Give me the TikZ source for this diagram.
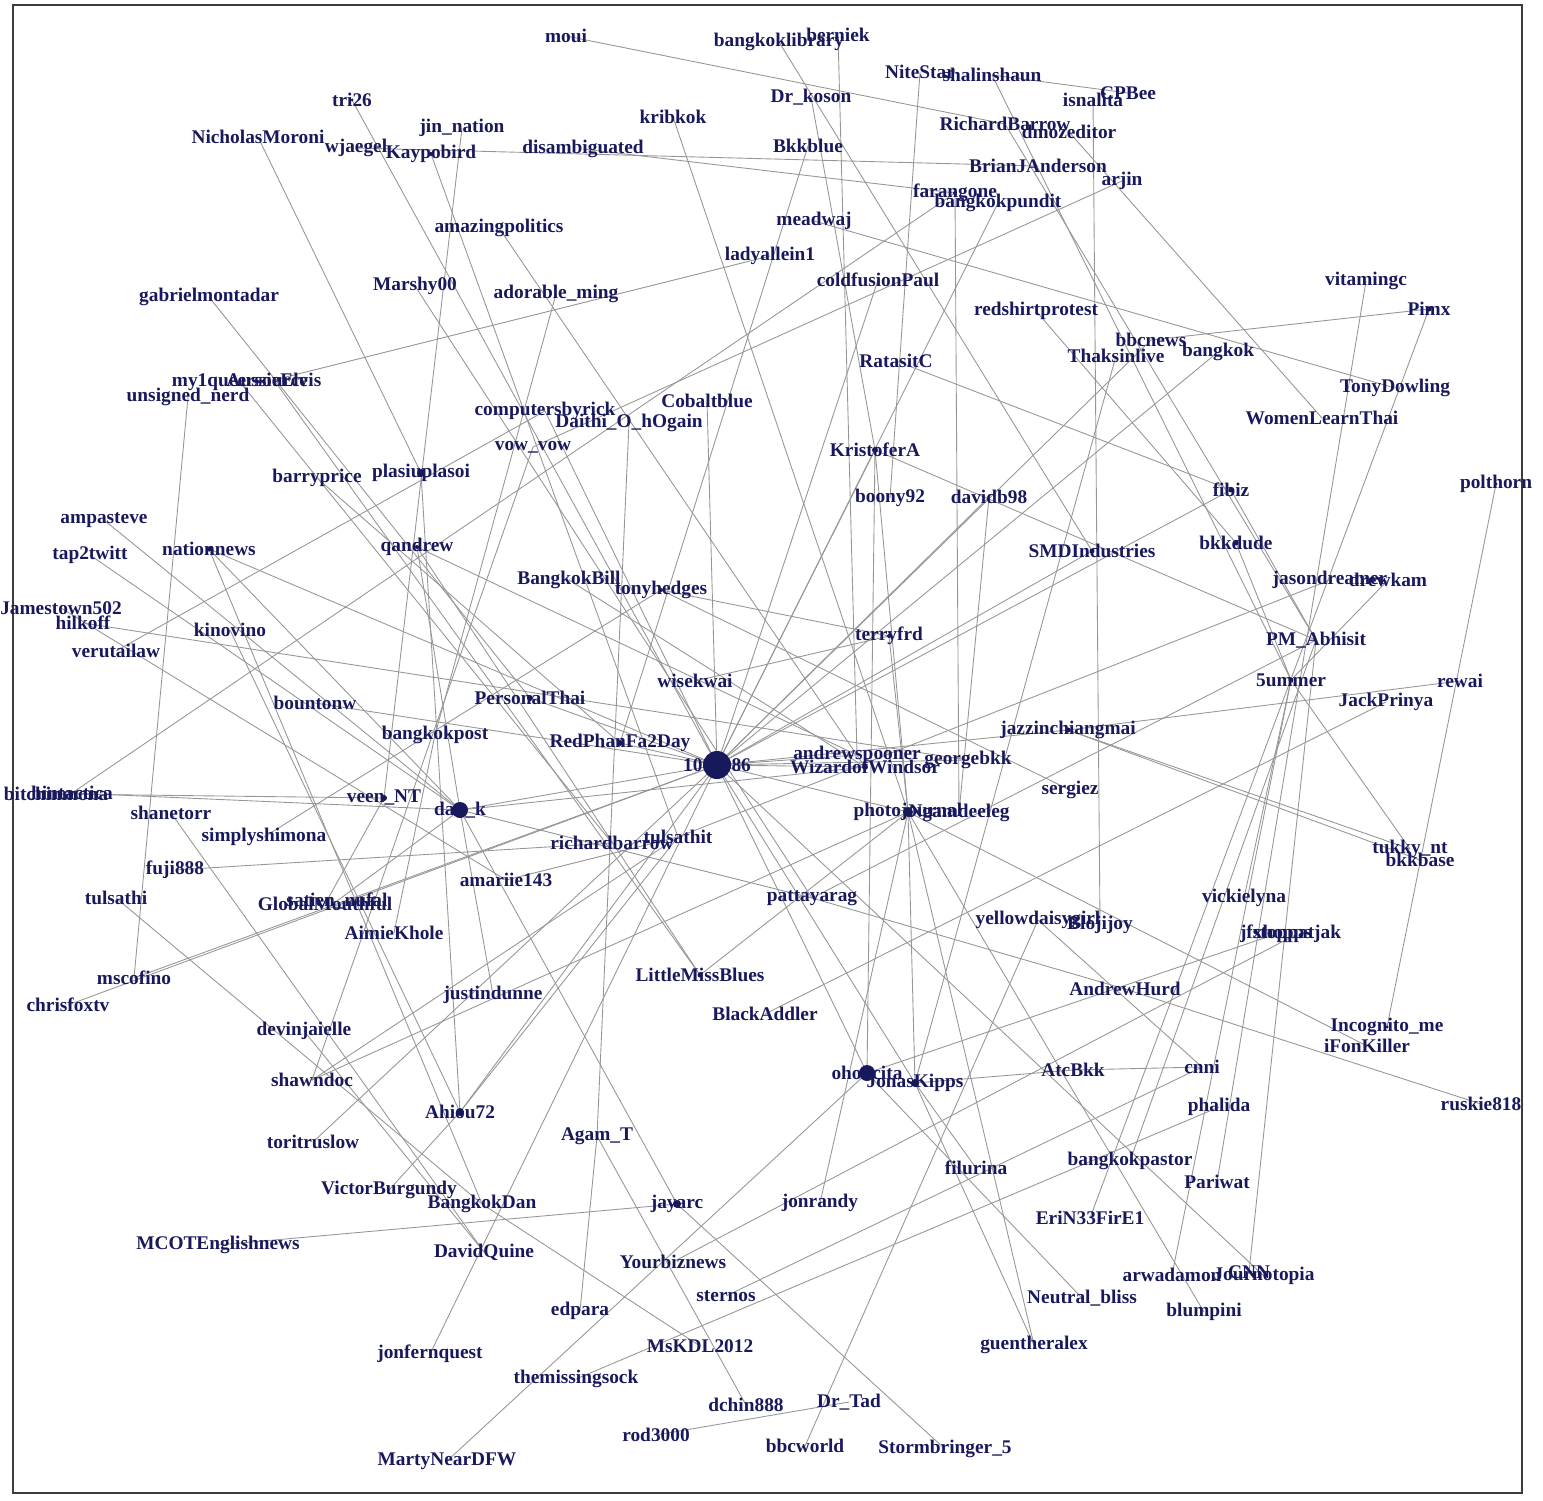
\documentclass[tikz,border=0pt]{standalone}
\usepackage{fontspec}
\setmainfont{Liberation Serif}
\usepackage{tikz}
\definecolor{navy}{RGB}{24,24,92}
\definecolor{edgegray}{RGB}{150,150,150}
\definecolor{framegray}{RGB}{60,60,60}

\begin{document}
\begin{tikzpicture}[x=0.01cm,y=-0.01cm,
  lbl/.style={text=navy,font=\fontsize{5.5}{6}\selectfont\bfseries},
  edge/.style={draw=edgegray,line width=0.25pt},
  frame/.style={draw=framegray,line width=0.6pt}]
\tikzstyle{every node}+=[inner sep=0pt]
\useasboundingbox (0,0) rectangle (1543,1500);
\draw [frame] (13,5) rectangle (1522,1493);
\foreach \n/\x/\y in {moui/566/36, bklib/779/42, berniek/838/35, nitestar/920/72,
  shalin/992/75, isnalita/1093/100, cpbee/1128/93, tri/352/100, jin/462/128,
  nicholas/258/137, wjaegel/356/148, kaypo/431/154, kribkok/673/117, drkoson/811/97,
  disamb/583/149, bkkblue/808/146, rbarrowA/1005/124, dmoz/1069/132, brianJ/1038/166,
  arjin/1122/181, farang/955/193, bkkpundit/998/203, amazing/499/228, meadwaj/814/221,
  lady/770/256, coldfusion/878/280, marshy/415/286, adorable/556/294, gabriel/209/297,
  redshirt/1036/311, vitamin/1366/281, pimx/1429/309, bbcnews/1151/340, thaksin/1116/356,
  bangkok/1218/352, ratasit/896/361, myqueer/240/382, aussie/274/380, unsigned/188/397,
  tony/1395/388, women/1322/418, computers/545/411, cobalt/707/401, daithi/629/423,
  vow/533/447, kristofer/875/450, barry/317/478, plasiu/421/473, fibiz/1231/490,
  polthorn/1496/484, boony/890/498, davidb/989/497, ampa/104/520, nation/209/549,
  qandrew/417/547, tap/90/555, smd/1092/551, bkkdude/1236/543, bkkbill/569/580,
  tonyh/661/590, jason/1330/580, drewkam/1388/580, james/61/608, hilkoff/83/623,
  kinovino/230/630, veru/116/651, terry/889/636, pmab/1316/640, wisekwai/695/681,
  summer/1291/680, rewai/1460/681, personal/530/698, bounton/315/703, jack/1386/702,
  jazz/1068/730, bkkpost/435/735, redphan/620/743, C/717/765, andrews/857/755,
  wizard/865/767, george/968/760, sergiez/1070/790, bitchin/56/794, hintac/72/793,
  veen/384/798, dank/460/810, shanetorr/171/813, photoj/908/812, ngam/959/813,
  simply/264/837, rbarrowB/612/843, tulsathit/678/837, tukky/1410/849, bkkbase/1420/860,
  fuji/175/870, amariie/506/880, patta/812/898, tulsathi/116/898, global/325/904,
  satien/337/901, vickie/1244/898, yellow/1038/920, bloji/1100/925, jfx/1276/934,
  stopp/1297/934, aimie/394/933, lmb/700/975, mscofino/134/978, ahurd/1125/989,
  justin/493/995, chris/68/1005, black/765/1014, devin/304/1031, incog/1387/1027,
  ifon/1367/1046, ohoo/867/1073, jonas/915/1083, atc/1073/1070, cnni/1202/1067,
  shawn/312/1080, ruskie/1481/1104, ahiou/460/1112, phalida/1219/1107, agam/597/1136,
  tori/313/1142, filurina/976/1168, bkkpastor/1130/1161, pariwat/1217/1182,
  victor/389/1190, bkkdan/482/1204, jayarc/677/1204, jonrandy/820/1203, erin/1090/1218,
  mcot/218/1245, dquine/484/1252, yourbiz/673/1262, arwa/1172/1275, cnn/1249/1272,
  journo/1264/1276, sternos/726/1296, neutral/1082/1298, edpara/580/1311,
  blumpini/1204/1312, guenther/1034/1345, mskdl/700/1346, jonfern/430/1354,
  missing/576/1379, dchin/746/1405, drtad/849/1402, rod/656/1435, bbcworld/805/1446,
  storm/945/1449, marty/447/1461}
  \coordinate (\n) at (\x,\y);
\foreach \a/\b in {moui/rbarrowA, bklib/smd, berniek/andrews, nitestar/boony,
  shalin/cpbee, shalin/summer, isnalita/bloji, tri/C, jin/veen, nicholas/plasiu,
  wjaegel/brianJ, kaypo/tulsathit, kribkok/photoj, drkoson/kristofer, disamb/farang,
  bkkblue/redphan, dmoz/women, rbarrowA/pmab, arjin/vow, farang/ngam, farang/hintac,
  bkkpundit/C, amazing/wizard, meadwaj/tony, lady/aussie, coldfusion/C, marshy/patta,
  adorable/bkkpost, gabriel/personal, redshirt/bkkdude, vitamin/pariwat, pimx/bbcnews,
  pimx/erin, bbcnews/C, thaksin/jonas, bangkok/C, ratasit/fibiz, myqueer/rbarrowB,
  aussie/lmb, unsigned/mscofino, computers/veru, computers/C, cobalt/C, daithi/agam,
  kristofer/C, kristofer/ohoo, kristofer/photoj, kristofer/pmab, barry/redphan,
  plasiu/ahiou, fibiz/pmab, fibiz/C, davidb/ngam, davidb/C, ampa/dank, nation/C,
  nation/dank, nation/bkkdan, qandrew/andrews, qandrew/dank, qandrew/lmb, tap/dank,
  smd/C, bkkdude/summer, bkkbill/wizard, tonyh/terry, tonyh/sergiez, simply/tonyh,
  jason/tulsathit, drewkam/summer, james/amariie, hilkoff/george, kinovino/ahiou,
  terry/photoj, wisekwai/terry, pmab/patta, pmab/cnn, pmab/bkkpastor, summer/tukky,
  summer/arwa, summer/vickie, rewai/jazz, polthorn/incog, personal/C, bounton/C,
  jack/black, jazz/tukky, jazz/bkkbase, jazz/C, bkkpost/aimie, redphan/C, andrews/C,
  wizard/C, wizard/dank, george/C, bitchin/veen, hintac/dank, veen/global, dank/C,
  dank/justin, dank/jayarc, dank/satien, dank/patta, shanetorr/dquine, photoj/C,
  photoj/lmb, photoj/shawn, photoj/jonrandy, photoj/guenther, photoj/blumpini,
  photoj/ifon, photoj/jonas, tulsathit/shawn, tulsathit/ahiou, tulsathit/amariie,
  fuji/rbarrowB, tulsathi/bkkdan, yellow/cnni, yellow/bbcworld, jfx/ohoo, stopp/yourbiz,
  mscofino/C, chris/C, ahurd/ruskie, patta/ahurd, devin/dquine, ohoo/C, ohoo/neutral,
  ohoo/marty, jonas/C, jonas/atc, jonas/guenther, jonas/filurina, atc/cnni, ahiou/C,
  ahiou/victor, agam/edpara, agam/dchin, tori/C, jayarc/mcot, jayarc/storm,
  bkkdan/mskdl, journo/C, missing/phalida, sternos/cnni, jonfern/C, vow/shawn, rod/drtad}
  \draw [edge] (\a) -- (\b);
\foreach \n/\t in {moui/moui, bklib/bangkoklibrary, berniek/berniek, nitestar/NiteStar,
  shalin/shalinshaun, isnalita/isnalita, cpbee/CPBee, tri/tri26, jin/jin\_nation,
  nicholas/NicholasMoroni, wjaegel/wjaegel, kaypo/Kaypobird, kribkok/kribkok,
  drkoson/Dr\_koson, disamb/disambiguated, bkkblue/Bkkblue, rbarrowA/RichardBarrow,
  dmoz/dmozeditor, brianJ/BrianJAnderson, arjin/arjin, farang/farangone,
  bkkpundit/bangkokpundit, amazing/amazingpolitics, meadwaj/meadwaj, lady/ladyallein1,
  coldfusion/coldfusionPaul, marshy/Marshy00, adorable/adorable\_ming,
  gabriel/gabrielmontadar, redshirt/redshirtprotest, vitamin/vitamingc, pimx/Pimx,
  bbcnews/bbcnews, thaksin/Thaksinlive, bangkok/bangkok, ratasit/RatasitC,
  myqueer/my1queersource, aussie/AussieElvis, unsigned/unsigned\_nerd, tony/TonyDowling,
  women/WomenLearnThai, computers/computersbyrick, cobalt/Cobaltblue,
  daithi/Daithi\_O\_hOgain, vow/vow\_vow, kristofer/KristoferA, barry/barryprice,
  plasiu/plasiuplasoi, fibiz/fibiz, polthorn/polthorn, boony/boony92, davidb/davidb98,
  ampa/ampasteve, nation/nationnews, qandrew/qandrew, tap/tap2twitt, smd/SMDIndustries,
  bkkdude/bkkdude, bkkbill/BangkokBill, tonyh/tonyhedges, jason/jasondreamer,
  drewkam/drewkam, james/Jamestown502, hilkoff/hilkoff, kinovino/kinovino,
  veru/verutailaw, terry/terryfrd, pmab/PM\_Abhisit, wisekwai/wisekwai, summer/5ummer,
  rewai/rewai, personal/PersonalThai, bounton/bountonw, jack/JackPrinya,
  jazz/jazzinchiangmai, bkkpost/bangkokpost, redphan/RedPhanFa2Day, C/1000086,
  andrews/andrewspooner, wizard/WizardofWindsor, george/georgebkk, sergiez/sergiez,
  bitchin/bitchinmona, hintac/hintactica, veen/veen\_NT, dank/dan\_k,
  shanetorr/shanetorr, photoj/photojournal, ngam/Ngamdeeleg, simply/simplyshimona,
  rbarrowB/richardbarrow, tulsathit/tulsathit, tukky/tukky\_nt, bkkbase/bkkbase,
  fuji/fuji888, amariie/amariie143, patta/pattayarag, tulsathi/tulsathi,
  global/GlobalMouthful, satien/satien\_nufal, vickie/vickielyna,
  yellow/yellowdaisygirl, bloji/Blojijoy, jfx/jfxhopps, stopp/stoppatjak,
  aimie/AimieKhole, lmb/LittleMissBlues, mscofino/mscofino, ahurd/AndrewHurd,
  justin/justindunne, chris/chrisfoxtv, black/BlackAddler, devin/devinjaielle,
  incog/Incognito\_me, ifon/iFonKiller, ohoo/ohoncita, jonas/JonasKipps, atc/AtcBkk,
  cnni/cnni, shawn/shawndoc, ruskie/ruskie818, ahiou/Ahiou72, phalida/phalida,
  agam/Agam\_T, tori/toritruslow, filurina/filurina, bkkpastor/bangkokpastor,
  pariwat/Pariwat, victor/VictorBurgundy, bkkdan/BangkokDan, jayarc/jayarc,
  jonrandy/jonrandy, erin/EriN33FirE1, mcot/MCOTEnglishnews, dquine/DavidQuine,
  yourbiz/Yourbiznews, arwa/arwadamon, cnn/CNN, journo/Journotopia, sternos/sternos,
  neutral/Neutral\_bliss, edpara/edpara, blumpini/blumpini, guenther/guentheralex,
  mskdl/MsKDL2012, jonfern/jonfernquest, missing/themissingsock, dchin/dchin888,
  drtad/Dr\_Tad, rod/rod3000, bbcworld/bbcworld, storm/Stormbringer\_5,
  marty/MartyNearDFW}
  \node [lbl] (\n-l) at (\n) {\t};
\foreach \n/\r in {C/14, dank/8, ohoo/8, photoj/5, plasiu/4, jayarc/4, jonas/4,
  ahiou/4, kristofer/3, wizard/3, redphan/3, personal/3, veen/3, lmb/2.5, fibiz/2.5,
  bkkdude/2.5, smd/2.5, jazz/2.5, summer/2.5, pimx/2.5, nation/2.5, qandrew/2,
  tonyh/2, terry/2, farang/2, kaypo/2, tri/1.5, polthorn/1.5, incog/1.5, bkkbase/1.5}
  \fill [navy] (\n) circle (\r);
\end{tikzpicture}
\end{document}
